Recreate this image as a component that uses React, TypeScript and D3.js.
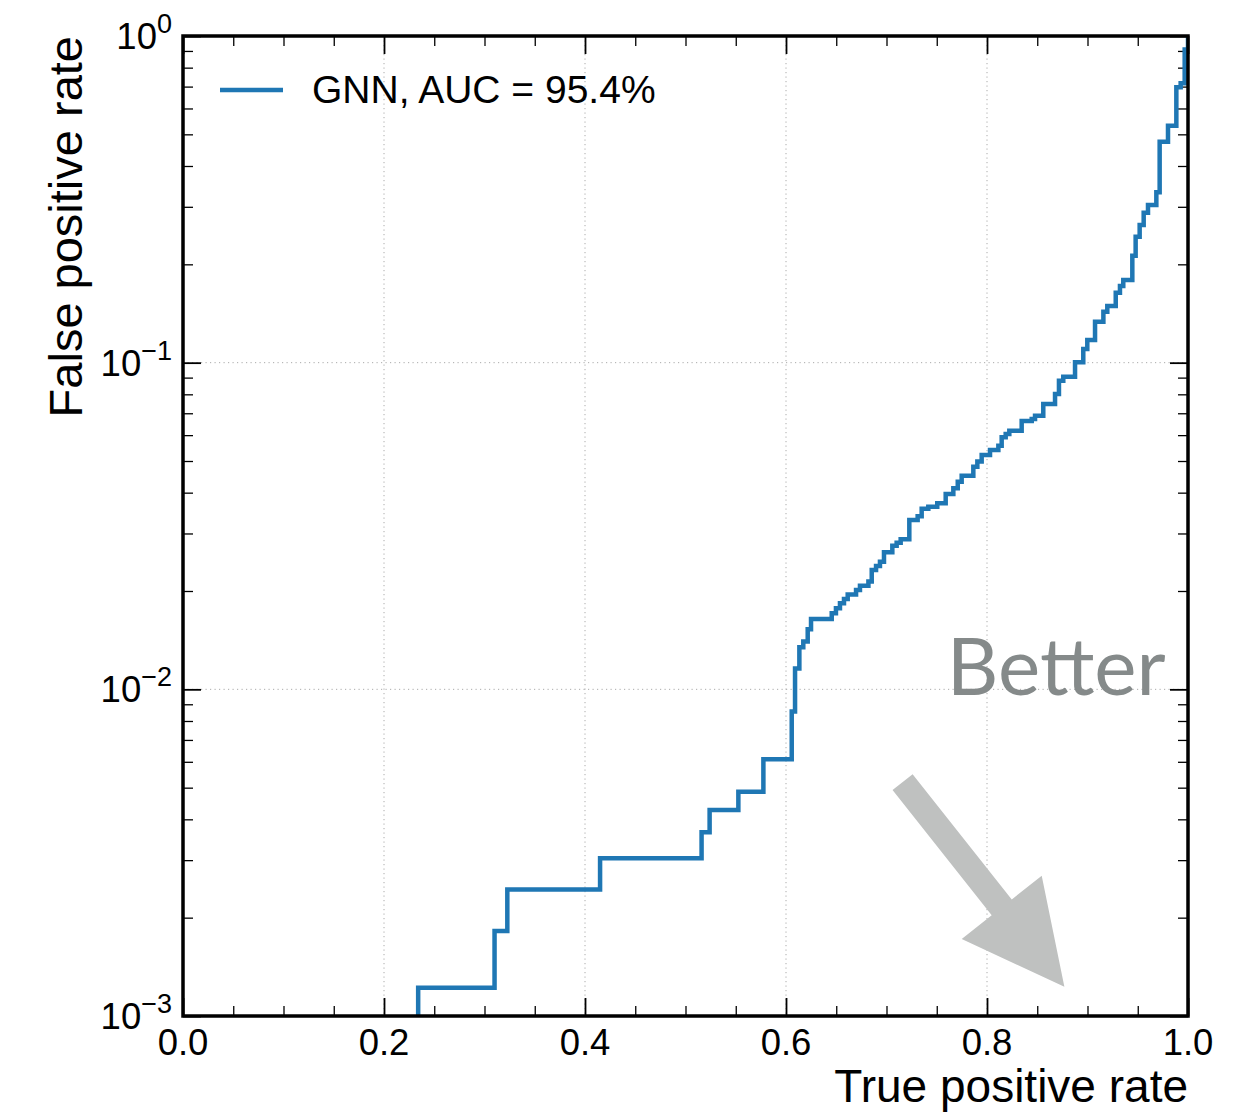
import React, { useRef, useEffect } from 'react';
import * as d3 from 'd3';

// ROC curve of the GNN (step points: at TPR the FPR rises to the level)
const tpr = [
  0.234, 0.310, 0.3227, 0.415, 0.516, 0.524, 0.5526, 0.5775, 0.6057, 0.609,
  0.6133, 0.6172, 0.6216, 0.6249, 0.6455, 0.6497, 0.6537, 0.6577, 0.6614, 0.6697,
  0.6736, 0.682, 0.6853, 0.6896, 0.6935, 0.6975, 0.7058, 0.7101, 0.7141, 0.7227,
  0.731, 0.735, 0.7416, 0.7505, 0.7589, 0.7665, 0.7709, 0.7748, 0.7864, 0.7904,
  0.7947, 0.803, 0.8113, 0.8146, 0.8186, 0.8222, 0.8345, 0.8445, 0.8478, 0.856,
  0.8677, 0.8716, 0.8759, 0.8876, 0.8958, 0.8998, 0.9075, 0.9158, 0.9197, 0.9281,
  0.9323, 0.9356, 0.9446, 0.9479, 0.9519, 0.9559, 0.9602, 0.9685, 0.9718, 0.9801,
  0.9884, 0.9927, 0.9967, 1.0
];
const fpr = [
  0.00122, 0.00182, 0.00244, 0.00304, 0.00365, 0.00427, 0.00486, 0.00611, 0.00855, 0.01159,
  0.01345, 0.0140, 0.01527, 0.01642, 0.0171, 0.0177, 0.01834, 0.0189, 0.0195, 0.02014,
  0.02077, 0.02137, 0.02319, 0.02385, 0.02458, 0.02627, 0.02752, 0.0281, 0.02879, 0.0330,
  0.0339, 0.0357, 0.0362, 0.0371, 0.0396, 0.04124, 0.0432, 0.0451, 0.048, 0.0498,
  0.0522, 0.054, 0.0557, 0.0591, 0.0605, 0.0619, 0.0663, 0.0672, 0.0688, 0.0747,
  0.0802, 0.0881, 0.0906, 0.1003, 0.1101, 0.1173, 0.1335, 0.1432, 0.1491, 0.1638,
  0.1717, 0.179, 0.2126, 0.243, 0.2638, 0.2877, 0.3038, 0.3322, 0.4747, 0.5314,
  0.6966, 0.7163, 0.910, 1.0
];

const xTicks = [0, 0.2, 0.4, 0.6, 0.8, 1.0];
const xTickLabels = ['0.0', '0.2', '0.4', '0.6', '0.8', '1.0'];
const yTicks = [1e-3, 1e-2, 1e-1, 1];
const yTickExponents = ['\u22123', '\u22122', '\u22121', '0'];
const legendLabel = 'GNN, AUC = 95.4%';
const xLabel = 'True positive rate';
const yLabel = 'False positive rate';
const annotation = 'Better';
const arrowFrom = [0.716, 0.0052];
const arrowTo = [0.877, 0.00123];
const annotationAt = [0.76, 0.0096];

const W = 1255, H = 1112;
const margin = { top: 36, right: 67, bottom: 96, left: 183 };
const FONT = '"Liberation Sans", Arial, Helvetica, sans-serif';

const App = () => {
  const svgRef = useRef();

  useEffect(() => {
    const svg = d3.select(svgRef.current);
    svg.selectAll('*').remove();

    const width = W - margin.left - margin.right;
    const height = H - margin.top - margin.bottom;

    const x = d3.scaleLinear().domain([0, 1]).range([margin.left, margin.left + width]);
    const y = d3.scaleLog().domain([1e-3, 1]).range([margin.top + height, margin.top]);

    svg.append('rect').attr('width', W).attr('height', H).attr('fill', '#fff');

    svg.append('defs').append('clipPath')
      .attr('id', 'plot-clip')
      .append('rect')
      .attr('x', margin.left).attr('y', margin.top)
      .attr('width', width).attr('height', height);

    // grid
    const grid = svg.append('g').attr('stroke', '#aaaaaa').attr('stroke-width', 1)
      .attr('stroke-dasharray', '1.2,3.3');
    grid.selectAll('.gx').data(xTicks.slice(1, -1)).join('line')
      .attr('x1', d => x(d)).attr('x2', d => x(d))
      .attr('y1', margin.top).attr('y2', margin.top + height);
    grid.selectAll('.gy').data(yTicks.slice(1, -1)).join('line')
      .attr('y1', d => y(d)).attr('y2', d => y(d))
      .attr('x1', margin.left).attr('x2', margin.left + width);

    // ticks (inward, on all four sides)
    const xMinor = d3.range(0, 1.0001, 0.05).filter(v => Math.abs(v * 5 - Math.round(v * 5)) > 1e-6);
    const yMinor = [];
    [1e-3, 1e-2, 1e-1].forEach(dec => { for (let k = 2; k <= 9; k++) yMinor.push(dec * k); });

    const tickGroup = (axis, tx, ty, vals, size, sw) => {
      const g = svg.append('g').attr('transform', `translate(${tx},${ty})`)
        .call(axis.tickValues(vals).tickSizeInner(-size).tickSizeOuter(0).tickFormat(''));
      g.select('.domain').remove();
      g.selectAll('line').attr('stroke', '#000').attr('stroke-width', sw);
      g.selectAll('text').remove();
    };
    const bottomY = margin.top + height, rightX = margin.left + width;
    tickGroup(d3.axisBottom(x), 0, bottomY, xTicks, 18, 1.8);
    tickGroup(d3.axisBottom(x), 0, bottomY, xMinor, 10, 1.3);
    tickGroup(d3.axisTop(x), 0, margin.top, xTicks, 18, 1.8);
    tickGroup(d3.axisTop(x), 0, margin.top, xMinor, 10, 1.3);
    tickGroup(d3.axisLeft(y), margin.left, 0, yTicks, 18, 1.8);
    tickGroup(d3.axisLeft(y), margin.left, 0, yMinor, 10, 1.3);
    tickGroup(d3.axisRight(y), rightX, 0, yTicks, 18, 1.8);
    tickGroup(d3.axisRight(y), rightX, 0, yMinor, 10, 1.3);

    // tick labels
    svg.append('g').selectAll('text').data(xTicks).join('text')
      .attr('x', d => x(d)).attr('y', bottomY + 39)
      .attr('text-anchor', 'middle')
      .style('font-family', FONT).style('font-size', '36.5px')
      .text((d, i) => xTickLabels[i]);

    const yl = svg.append('g').selectAll('text').data(yTicks).join('text')
      .attr('x', margin.left - 11).attr('y', d => y(d) + 13)
      .attr('text-anchor', 'end')
      .style('font-family', FONT).style('font-size', '36.5px');
    yl.append('tspan').text('10');
    yl.append('tspan').attr('dy', -16).style('font-size', '27px').text((d, i) => yTickExponents[i]);

    // annotation arrow
    const p0 = [x(arrowFrom[0]), y(arrowFrom[1])];
    const p1 = [x(arrowTo[0]), y(arrowTo[1])];
    const len = Math.hypot(p1[0] - p0[0], p1[1] - p0[1]);
    const ux = (p1[0] - p0[0]) / len, uy = (p1[1] - p0[1]) / len;
    const px = uy, py = -ux;
    const shaftW = 12.8, headW = 51, headL = 101;
    const b = [p1[0] - ux * headL, p1[1] - uy * headL];
    const arrowPts = [
      [p0[0] + px * shaftW, p0[1] + py * shaftW],
      [b[0] + px * shaftW, b[1] + py * shaftW],
      [b[0] + px * headW, b[1] + py * headW],
      p1,
      [b[0] - px * headW, b[1] - py * headW],
      [b[0] - px * shaftW, b[1] - py * shaftW],
      [p0[0] - px * shaftW, p0[1] - py * shaftW]
    ];
    svg.append('polygon')
      .attr('points', arrowPts.map(p => p.join(',')).join(' '))
      .attr('fill', '#bfc1c0');

    svg.append('text')
      .attr('x', x(annotationAt[0])).attr('y', y(annotationAt[1]))
      .style('font-family', 'Lato, "Open Sans", sans-serif')
      .style('font-size', '80px')
      .style('fill', '#858a8a')
      .text(annotation);

    // ROC curve
    const pts = [[tpr[0], 5e-4]].concat(tpr.map((t, i) => [t, fpr[i]]));
    const line = d3.line()
      .x(d => x(d[0]))
      .y(d => y(d[1]))
      .curve(d3.curveStepAfter);
    svg.append('path')
      .datum(pts)
      .attr('d', line)
      .attr('fill', 'none')
      .attr('stroke', '#1f77b4')
      .attr('stroke-width', 4.5)
      .attr('clip-path', 'url(#plot-clip)');

    // frame
    svg.append('rect')
      .attr('x', margin.left).attr('y', margin.top)
      .attr('width', width).attr('height', height)
      .attr('fill', 'none').attr('stroke', '#000').attr('stroke-width', 3.5);

    // legend
    svg.append('line')
      .attr('x1', 220).attr('x2', 283).attr('y1', 90).attr('y2', 90)
      .attr('stroke', '#1f77b4').attr('stroke-width', 4.5);
    svg.append('text')
      .attr('x', 312).attr('y', 103)
      .style('font-family', FONT).style('font-size', '39px')
      .text(legendLabel);

    // axis labels
    svg.append('text')
      .attr('x', rightX).attr('y', 1102)
      .attr('text-anchor', 'end')
      .style('font-family', FONT).style('font-size', '46px')
      .text(xLabel);
    svg.append('text')
      .attr('transform', `translate(82,${margin.top}) rotate(-90)`)
      .attr('text-anchor', 'end')
      .style('font-family', FONT).style('font-size', '47px')
      .text(yLabel);
  }, []);

  return (
    <svg ref={svgRef} width={W} height={H}
      style={{ position: 'absolute', left: 0, top: 0, display: 'block' }} />
  );
};

export default App;
